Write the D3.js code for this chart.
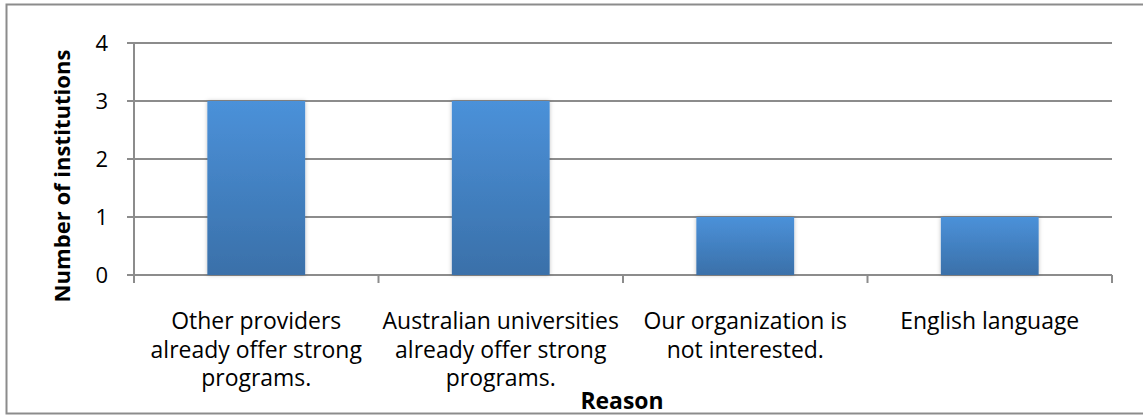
<!DOCTYPE html>
<html><head><meta charset="utf-8">
<script src="https://cdn.jsdelivr.net/npm/d3@7"></script>
<style>body{margin:0;background:#fff}svg{display:block}</style>
</head><body>
<svg id="c" width="1143" height="417"></svg>
<script>
const categories = [
  ["Other providers", "already offer strong", "programs."],
  ["Australian universities", "already offer strong", "programs."],
  ["Our organization is", "not interested."],
  ["English language"]
];
const values = [3, 3, 1, 1];
const yTicks = [0, 1, 2, 3, 4];
const yTitle = "Number of institutions";
const xTitle = "Reason";

const FONT = "'Open Sans', 'Noto Sans', sans-serif";
const svg = d3.select("#c");
const W = 1143, H = 417;
const m = {left: 134, right: 31, top: 43, bottom: 142};
const iw = W - m.left - m.right, ih = H - m.top - m.bottom;

// outer frame
svg.append("rect").attr("x", 6.5).attr("y", 4.5).attr("width", W + 10).attr("height", 409)
  .attr("fill", "#fff").attr("stroke", "#8c8c8c").attr("stroke-width", 2);

const defs = svg.append("defs");
const grad = defs.append("linearGradient").attr("id", "bg").attr("x1", 0).attr("y1", 0).attr("x2", 0).attr("y2", 1);
grad.append("stop").attr("offset", "0%").attr("stop-color", "#4b91d9");
grad.append("stop").attr("offset", "100%").attr("stop-color", "#3a70a9");
const f = defs.append("filter").attr("id", "sh").attr("x", "-20%").attr("y", "-10%").attr("width", "140%").attr("height", "120%");
f.append("feDropShadow").attr("dx", 0).attr("dy", 0).attr("stdDeviation", 2).attr("flood-color", "#000").attr("flood-opacity", 0.25);

const g = svg.append("g").attr("transform", `translate(${m.left},${m.top})`);
const idx = categories.map((d, i) => i);
const xCat = d3.scaleBand().domain(idx).range([0, iw]).paddingInner(0).paddingOuter(0);
const xBar = d3.scaleBand().domain(idx).range([0, iw]).paddingInner(0.6).paddingOuter(0.3);
const y = d3.scaleLinear().domain([0, 4]).range([ih, 0]);

// gridlines
g.append("g").selectAll("line").data(yTicks).join("line")
  .attr("x1", -7).attr("x2", iw).attr("y1", d => y(d)).attr("y2", d => y(d))
  .attr("stroke", "#8c8c8c").attr("stroke-width", 2);
// y axis line
g.append("line").attr("x1", 0).attr("x2", 0).attr("y1", 0).attr("y2", ih + 8)
  .attr("stroke", "#8c8c8c").attr("stroke-width", 2);
// x ticks
const xt = idx.map(i => xCat(i)).concat([iw]);
g.append("g").selectAll("line").data(xt).join("line")
  .attr("x1", d => d).attr("x2", d => d).attr("y1", ih).attr("y2", ih + 8)
  .attr("stroke", "#8c8c8c").attr("stroke-width", 2);

// bars
g.append("g").selectAll("rect").data(values).join("rect")
  .attr("x", (d, i) => xBar(i)).attr("width", xBar.bandwidth())
  .attr("y", d => y(d)).attr("height", d => ih - y(d))
  .attr("fill", "url(#bg)").attr("filter", "url(#sh)");

// y tick labels
g.append("g").selectAll("text").data(yTicks).join("text")
  .attr("x", -26).attr("y", d => y(d)).attr("dy", "0.36em")
  .attr("text-anchor", "end").attr("font-family", FONT).attr("font-size", 22).attr("fill", "#000")
  .text(d => d);

// category labels
const lab = g.append("g").selectAll("text").data(categories).join("text")
  .attr("text-anchor", "middle").attr("font-family", FONT).attr("font-size", 18).attr("fill", "#000");
lab.each(function(lines, i) {
  const t = d3.select(this);
  lines.forEach((s, j) => {
    t.append("tspan").attr("x", xCat(i) + xCat.bandwidth() / 2).attr("y", ih + 54 + j * 28.5).text(s);
  });
});
// fit font size so first line width ~170px
const probe = lab.filter((d, i) => i === 0).select("tspan").node();
const w0 = probe.getComputedTextLength();
const fs = 18 * 170 / w0;
lab.attr("font-size", fs);

// axis titles
svg.append("text").attr("transform", `translate(70,${176}) rotate(-90)`)
  .attr("text-anchor", "middle").attr("font-family", FONT).attr("font-weight", "bold")
  .attr("font-size", 18).attr("fill", "#000").text(yTitle).attr("id", "yt");
const ytn = document.getElementById("yt");
const ytw = ytn.getComputedTextLength();
d3.select(ytn).attr("font-size", 18 * 253 / ytw);

svg.append("text").attr("x", 622).attr("y", 409)
  .attr("text-anchor", "middle").attr("font-family", FONT).attr("font-weight", "bold")
  .attr("font-size", fs).attr("fill", "#000").text(xTitle);
</script>
</body></html>
